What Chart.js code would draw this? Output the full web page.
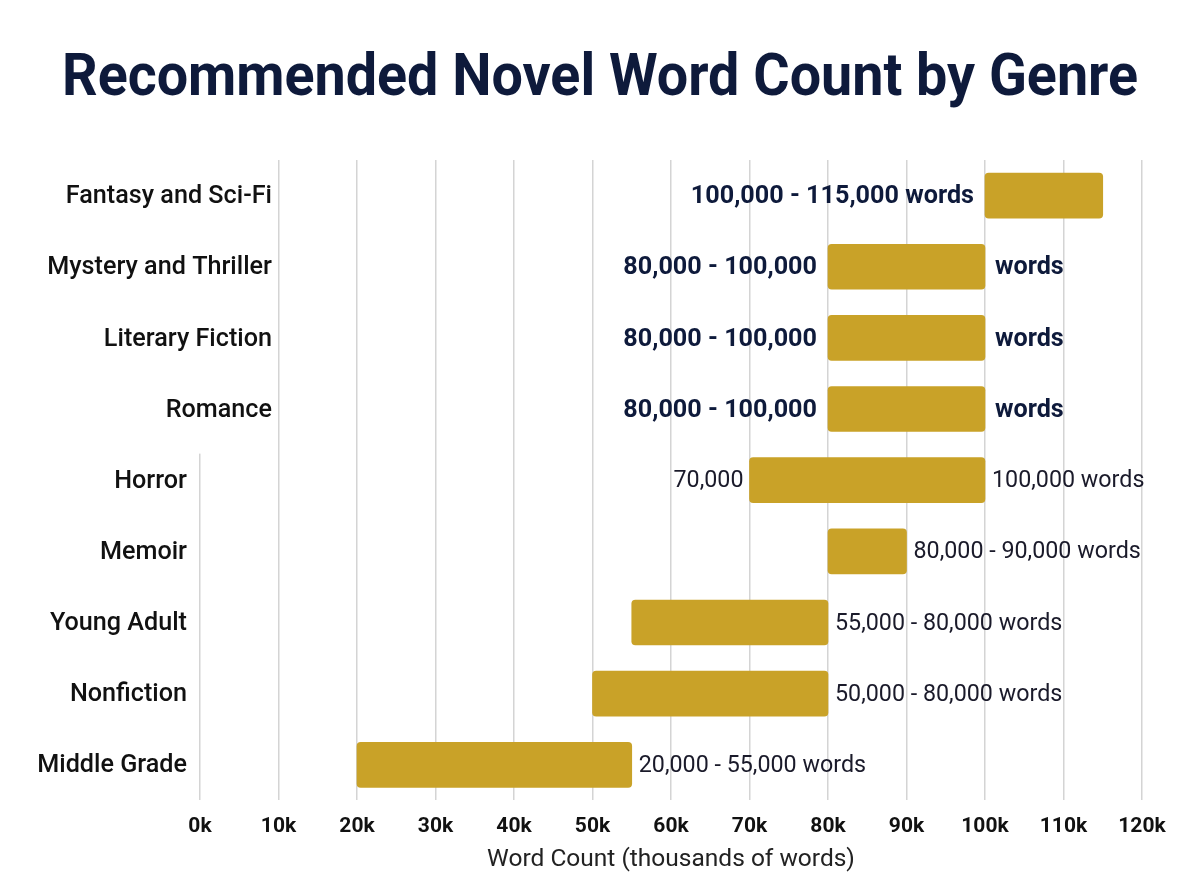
<!DOCTYPE html>
<html>
<head>
<meta charset="utf-8">
<script src="https://cdn.jsdelivr.net/npm/chart.js@4.4.1/dist/chart.umd.min.js"></script>
<style>
  html, body { margin: 0; padding: 0; background: #fff; }
  #wrap { width: 1200px; height: 896px; }
</style>
</head>
<body>
<div id="wrap"><canvas id="genreChart" width="1200" height="896"></canvas></div>
<script>
const genres = [
  "Fantasy and Sci-Fi", "Mystery and Thriller", "Literary Fiction", "Romance",
  "Horror", "Memoir", "Young Adult", "Nonfiction", "Middle Grade"
];
// thousands of words
const minWords = [100, 80, 80, 80, 70, 80, 55, 50, 20];
const maxWords = [115, 100, 100, 100, 100, 90, 80, 80, 55];
const leftLabels = [
  "100,000 - 115,000 words", "80,000 - 100,000", "80,000 - 100,000", "80,000 - 100,000",
  "70,000", "", "", "", ""
];
const rightLabels = [
  "", "words", "words", "words", "100,000 words",
  "80,000 - 90,000 words", "55,000 - 80,000 words", "50,000 - 80,000 words", "20,000 - 55,000 words"
];
const xTickLabels = ["0k", "10k", "20k", "30k", "40k", "50k", "60k", "70k", "80k", "90k", "100k", "110k", "120k"];
const chartTitle = "Recommended Novel Word Count by Genre";

const FONT = "Roboto, 'Noto Sans', sans-serif";
const NAVY = "#0e1a3b";
const GOLD = "#c9a228";

// top rows get the bold treatment and wider label column
const isHighlighted = (i) => i < 4;

// slightly narrowed text, the original uses a condensed face
function narrowText(ctx, text, x, y) {
  const w = ctx.measureText(text).width;
  ctx.fillText(text, x, y, w * 0.95);
}

const pageTitle = {
  id: "pageTitle",
  afterDraw(chart) {
    const ctx = chart.ctx;
    ctx.save();
    ctx.font = "bold 60px " + FONT;
    ctx.fillStyle = NAVY;
    ctx.textAlign = "center";
    ctx.textBaseline = "alphabetic";
    ctx.fillText(chartTitle, chart.width / 2, 95, 1076);
    ctx.restore();
  }
};

const genreLabels = {
  id: "genreLabels",
  beforeDatasetsDraw(chart) {
    const ctx = chart.ctx;
    const y = chart.scales.y;
    const area = chart.chartArea;
    // the 0k line is hidden behind the wide top labels
    ctx.save();
    ctx.fillStyle = "#fff";
    const stop = (y.getPixelForValue(3) + y.getPixelForValue(4)) / 2 + 9;
    ctx.fillRect(area.left - 6, area.top - 2, 12, stop - area.top + 2);
    ctx.restore();
  },
  afterDraw(chart) {
    const ctx = chart.ctx;
    const y = chart.scales.y;
    const area = chart.chartArea;
    ctx.save();
    ctx.font = "500 26.5px " + FONT;
    ctx.fillStyle = "#111";
    ctx.textAlign = "right";
    ctx.textBaseline = "middle";
    genres.forEach((g, i) => {
      const px = isHighlighted(i) ? area.left + 72 : area.left - 13;
      narrowText(ctx, g, px, y.getPixelForValue(i) + 1);
    });
    ctx.restore();
  }
};

const rangeLabels = {
  id: "rangeLabels",
  afterDatasetsDraw(chart) {
    const ctx = chart.ctx;
    const meta = chart.getDatasetMeta(0);
    ctx.save();
    ctx.textBaseline = "middle";
    meta.data.forEach((bar, i) => {
      const start = Math.min(bar.x, bar.base);
      const end = Math.max(bar.x, bar.base);
      if (isHighlighted(i)) {
        ctx.font = "bold 26.5px " + FONT;
        ctx.fillStyle = NAVY;
      } else {
        ctx.font = "24.5px " + FONT;
        ctx.fillStyle = "#1a1a2a";
      }
      if (leftLabels[i]) {
        ctx.textAlign = "right";
        narrowText(ctx, leftLabels[i], start - (isHighlighted(i) ? 11 : 6), bar.y + 1);
      }
      if (rightLabels[i]) {
        ctx.textAlign = "left";
        narrowText(ctx, rightLabels[i], end + (isHighlighted(i) ? 10 : 7), bar.y + 1);
      }
    });
    ctx.restore();
  }
};

new Chart(document.getElementById("genreChart"), {
  type: "bar",
  data: {
    labels: genres,
    datasets: [{
      label: "Word Count",
      data: genres.map((g, i) => [minWords[i], maxWords[i]]),
      backgroundColor: GOLD,
      borderRadius: 4,
      borderSkipped: false,
      barThickness: 45
    }]
  },
  options: {
    indexAxis: "y",
    responsive: false,
    animation: false,
    layout: { padding: { left: 200, right: 58, top: 160, bottom: 19 } },
    plugins: {
      legend: { display: false },
      tooltip: { enabled: false },
      title: { display: false }
    },
    scales: {
      x: {
        min: 0,
        max: 120,
        ticks: {
          stepSize: 10,
          padding: 14,
          color: "#111",
          font: { family: FONT, size: 21, weight: "bold" },
          callback: (v, idx) => xTickLabels[idx]
        },
        grid: { color: "#d4d4d4", lineWidth: 1.5, drawTicks: false },
        border: { display: false },
        title: {
          display: true,
          text: "Word Count (thousands of words)",
          color: "#222",
          font: { family: FONT, size: 24.5 },
          padding: { top: -8, bottom: 2 }
        }
      },
      y: {
        display: false
      }
    }
  },
  plugins: [genreLabels, rangeLabels, pageTitle]
});
</script>
</body>
</html>
